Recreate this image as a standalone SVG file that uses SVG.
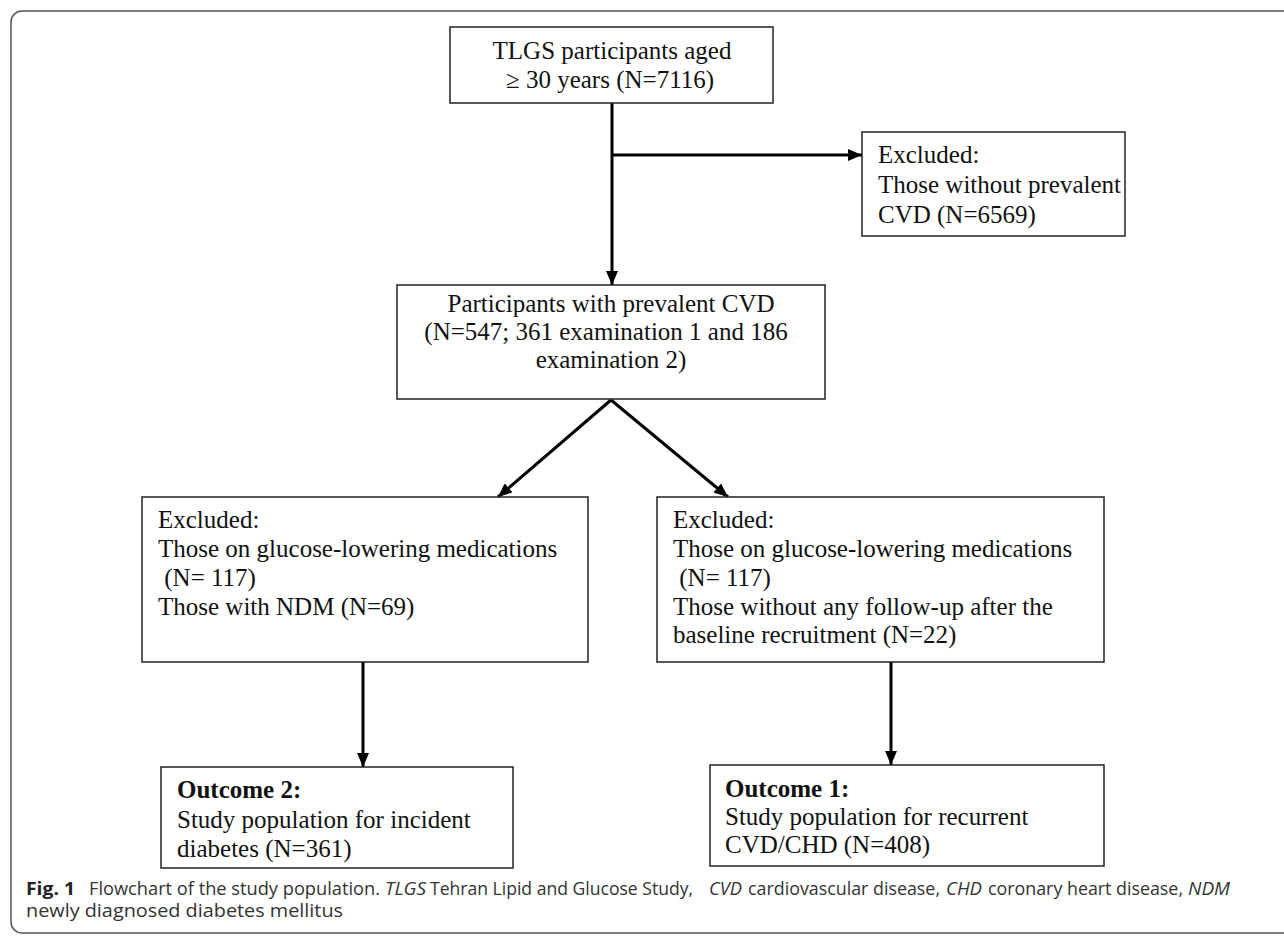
<svg xmlns="http://www.w3.org/2000/svg" width="1284" height="936" viewBox="0 0 1284 936">
<style>
.frame{fill:none;stroke:#555;stroke-width:1.5}
.box{fill:#fff;stroke:#222;stroke-width:1.5}
.t{font-family:"Liberation Serif","Times New Roman",serif;font-size:25px;fill:#111}
.c{text-anchor:middle}
.b{font-weight:bold}
.conn{stroke:#000;stroke-width:3;fill:none}
.cap{font-family:"Open Sans","Liberation Sans",sans-serif;font-size:18px;fill:#333}
.fb{font-weight:bold;fill:#222}
.it{font-style:italic}
</style>
<defs>
<marker id="ah" viewBox="0 0 14 12" refX="14" refY="6" markerWidth="14" markerHeight="12" markerUnits="userSpaceOnUse" orient="auto">
<path d="M0,0 L14,6 L0,12 z" fill="#000"/>
</marker>
</defs>
<rect class="frame" x="11" y="11" width="1300" height="922" rx="11"/>
<g id="connectors">
<line class="conn" x1="612" y1="103" x2="612" y2="285" marker-end="url(#ah)"/>
<line class="conn" x1="612" y1="155" x2="862" y2="155" marker-end="url(#ah)"/>
<line class="conn" x1="611" y1="400" x2="498" y2="497" marker-end="url(#ah)"/>
<line class="conn" x1="611" y1="400" x2="728" y2="497" marker-end="url(#ah)"/>
<line class="conn" x1="363" y1="662" x2="363" y2="767" marker-end="url(#ah)"/>
<line class="conn" x1="891" y1="662" x2="891" y2="765" marker-end="url(#ah)"/>
</g>
<g id="n1">
<rect class="box" x="450" y="27" width="323" height="76"/>
<text class="t c" x="612" y="59">TLGS participants aged</text>
<text class="t c" x="610" y="88">≥ 30 years (N=7116)</text>
</g>
<g id="n2">
<rect class="box" x="862" y="132" width="263" height="104"/>
<text class="t" x="878" y="163">Excluded:</text>
<text class="t" x="878" y="193">Those without prevalent</text>
<text class="t" x="878" y="223">CVD (N=6569)</text>
</g>
<g id="n3">
<rect class="box" x="397" y="285" width="428" height="114"/>
<text class="t c" x="611" y="312">Participants with prevalent CVD</text>
<text class="t c" x="606" y="340">(N=547; 361 examination 1 and 186</text>
<text class="t c" x="611" y="368">examination 2)</text>
</g>
<g id="n4">
<rect class="box" x="142" y="497" width="446" height="165"/>
<text class="t" x="158" y="528">Excluded:</text>
<text class="t" x="158" y="557">Those on glucose-lowering medications</text>
<text class="t" x="158" y="586" xml:space="preserve"> (N= 117)</text>
<text class="t" x="158" y="615">Those with NDM (N=69)</text>
</g>
<g id="n5">
<rect class="box" x="657" y="497" width="447" height="165"/>
<text class="t" x="673" y="528">Excluded:</text>
<text class="t" x="673" y="557">Those on glucose-lowering medications</text>
<text class="t" x="673" y="586" xml:space="preserve"> (N= 117)</text>
<text class="t" x="673" y="615">Those without any follow-up after the</text>
<text class="t" x="673" y="643">baseline recruitment (N=22)</text>
</g>
<g id="n6">
<rect class="box" x="161" y="767" width="352" height="101"/>
<text class="t b" x="177" y="798">Outcome 2:</text>
<text class="t" x="177" y="828">Study population for incident</text>
<text class="t" x="177" y="857">diabetes (N=361)</text>
</g>
<g id="n7">
<rect class="box" x="710" y="765" width="394" height="101"/>
<text class="t b" x="725" y="797">Outcome 1:</text>
<text class="t" x="725" y="825">Study population for recurrent</text>
<text class="t" x="725" y="853">CVD/CHD (N=408)</text>
</g>
<g id="caption">
<text class="cap fb" x="26" y="895" textLength="49" lengthAdjust="spacingAndGlyphs">Fig. 1</text>
<text class="cap" x="89" y="895" textLength="291" lengthAdjust="spacingAndGlyphs">Flowchart of the study population.</text>
<text class="cap it" x="385" y="895" textLength="41" lengthAdjust="spacingAndGlyphs">TLGS</text>
<text class="cap" x="430" y="895" textLength="263" lengthAdjust="spacingAndGlyphs">Tehran Lipid and Glucose Study,</text>
<text class="cap it" x="709" y="895" textLength="33" lengthAdjust="spacingAndGlyphs">CVD</text>
<text class="cap" x="748" y="895" textLength="192" lengthAdjust="spacingAndGlyphs">cardiovascular disease,</text>
<text class="cap it" x="946" y="895" textLength="36" lengthAdjust="spacingAndGlyphs">CHD</text>
<text class="cap" x="988" y="895" textLength="195" lengthAdjust="spacingAndGlyphs">coronary heart disease,</text>
<text class="cap it" x="1188" y="895" textLength="42" lengthAdjust="spacingAndGlyphs">NDM</text>
<text class="cap" x="26" y="917" textLength="317" lengthAdjust="spacingAndGlyphs">newly diagnosed diabetes mellitus</text>
</g>
</svg>
